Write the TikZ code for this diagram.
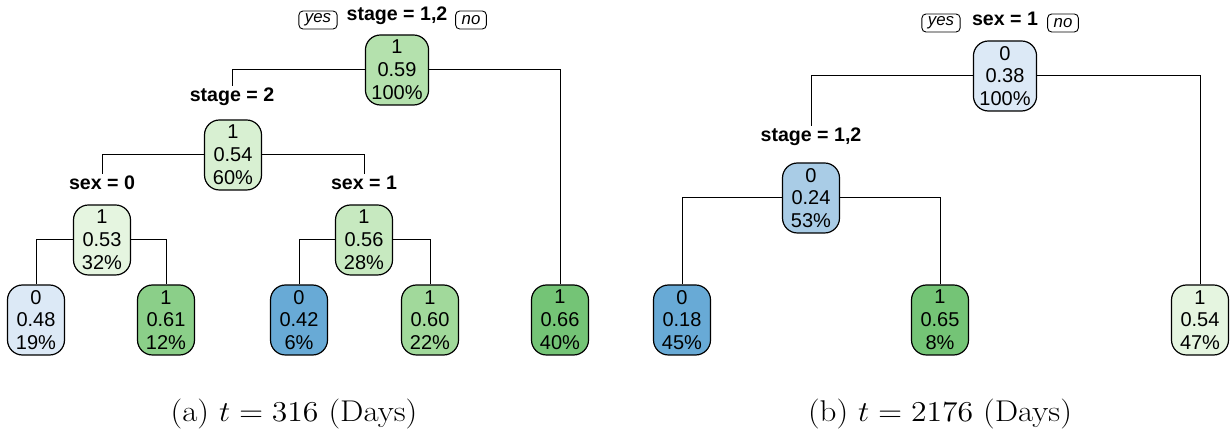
\documentclass[tikz,border=0pt]{standalone}
\usepackage{fontspec}
\setsansfont{Liberation Sans}
\usepackage{graphicx}

\definecolor{blu1}{HTML}{DCE9F6}
\definecolor{blu2}{HTML}{A9CCE6}
\definecolor{blu3}{HTML}{68AAD6}
\definecolor{grn1}{HTML}{E5F5E0}
\definecolor{grn2}{HTML}{D8F0D2}
\definecolor{grn3}{HTML}{C7E9C0}
\definecolor{grn4}{HTML}{B4E1AD}
\definecolor{grn5}{HTML}{A1D99B}
\definecolor{grn6}{HTML}{8BCF89}
\definecolor{grn7}{HTML}{74C476}

\tikzset{
  box/.style={draw, line width=0.6pt, rounded corners=7.5pt, minimum width=28.5pt,
    minimum height=35pt, inner xsep=3pt, inner ysep=0.5pt, align=center,
    font=\sffamily\fontsize{10}{11.4}\selectfont},
  split/.style={font=\sffamily\bfseries\fontsize{9.8}{11}\selectfont, inner sep=1pt},
  yesno/.style={draw, line width=0.45pt, rounded corners=2pt, inner xsep=3pt, inner ysep=0pt,
    minimum height=9pt, font=\sffamily\itshape\fontsize{8.4}{9}\selectfont},
  subcap/.style={font=\fontsize{15}{17}\selectfont}
}

\begin{document}
\begin{tikzpicture}[x=0.5pt,y=-0.5pt,line width=0.5pt]
  \useasboundingbox (0,0) rectangle (1230,437);
  % (a) t = 316
  \node[split] (sA) at (397,16) {stage = 1,2};
  \node[yesno] (yA) at (318,20) {yes};
  \node[yesno] (nA) at (471,20) {no};
  \node[box, fill=grn4] (a1) at (397,70) {1\\0.59\\100\%};
  \node[split] (s2) at (232,97) {stage = 2};
  \node[box, fill=grn2] (a2) at (233,155) {1\\0.54\\60\%};
  \node[split] (s3) at (102,183) {sex = 0};
  \node[split] (s4) at (364,183) {sex = 1};
  \node[box, fill=grn1] (a3) at (102,240) {1\\0.53\\32\%};
  \node[box, fill=grn3] (a4) at (364,240) {1\\0.56\\28\%};
  \foreach \n/\x/\col/\txt in {5/36/blu1/{0\\0.48\\19\%}, 6/166/grn6/{1\\0.61\\12\%},
      7/299/blu3/{0\\0.42\\6\%}, 8/430/grn5/{1\\0.60\\22\%}, 9/560/grn7/{1\\0.66\\40\%}}
    \node[box, fill=\col] (a\n) at (\x,320) {\txt};
  \draw (a1.west) -| (s2.north);
  \draw (a1.east) -| (a9.north);
  \draw (a2.west) -| (s3.north);
  \draw (a2.east) -| (s4.north);
  \draw (a3.west) -| (a5.north);
  \draw (a3.east) -| (a6.north);
  \draw (a4.west) -| (a7.north);
  \draw (a4.east) -| (a8.north);
  \node[subcap] (capA) at (294,414) {\scalebox{1.1}[1]{(a) $t = 316$ (Days)}};

  % (b) t = 2176
  \node[split] (sB) at (1005,19) {sex = 1};
  \node[yesno] (yB) at (941,23) {yes};
  \node[yesno] (nB) at (1063,23) {no};
  \node[box, fill=blu1] (b1) at (1005,76) {0\\0.38\\100\%};
  \node[split] (s6) at (811,137) {stage = 1,2};
  \node[box, fill=blu2] (b2) at (811,198) {0\\0.24\\53\%};
  \foreach \n/\x/\col/\txt in {3/682/blu3/{0\\0.18\\45\%}, 4/940/grn7/{1\\0.65\\8\%},
      5/1200/grn1/{1\\0.54\\47\%}}
    \node[box, fill=\col] (b\n) at (\x,320) {\txt};
  \draw (b1.west) -| (s6.north);
  \draw (b1.east) -| (b5.north);
  \draw (b2.west) -| (b3.north);
  \draw (b2.east) -| (b4.north);
  \node[subcap] (capB) at (940,414) {\scalebox{1.1}[1]{(b) $t = 2176$ (Days)}};
\end{tikzpicture}
\end{document}
